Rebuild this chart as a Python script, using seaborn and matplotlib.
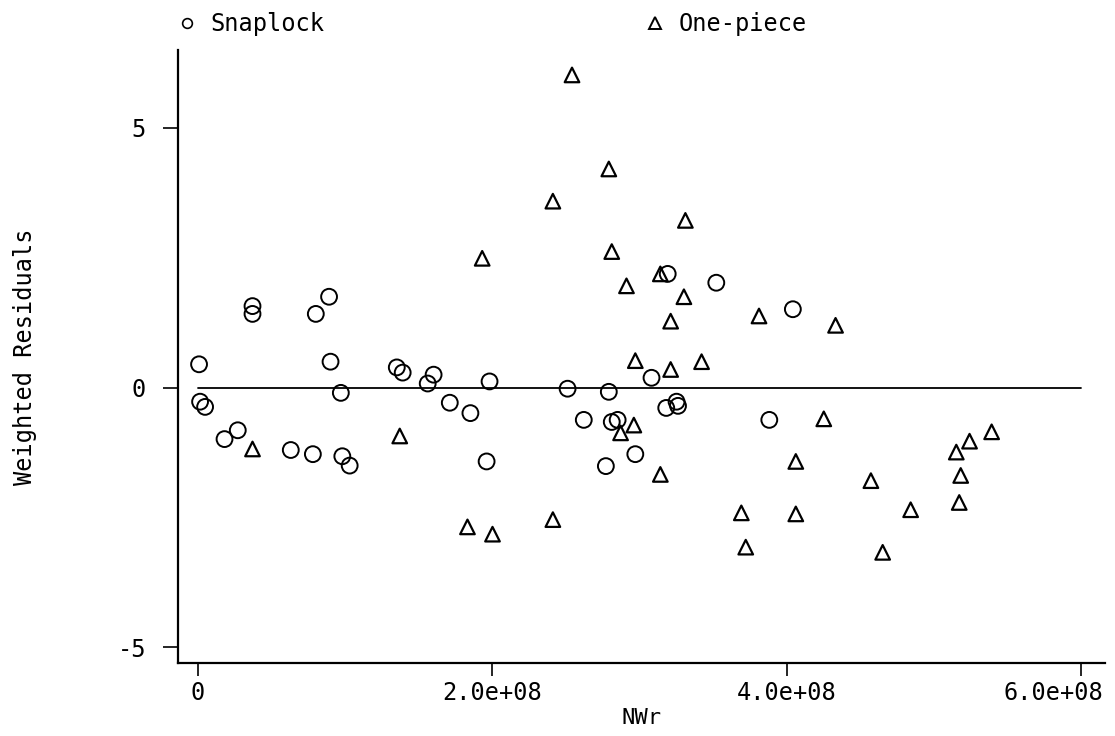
import numpy as np
import pandas as pd
import seaborn as sns
import matplotlib.pyplot as plt
from matplotlib.lines import Line2D
from matplotlib.transforms import ScaledTranslation

# Snaplock (circles): NWr in units of 1e8, weighted residuals
snap_nwr = [0.007, 0.014, 0.048, 0.18, 0.27, 0.37, 0.37, 0.63, 0.80, 0.78,
            0.89, 0.90, 0.97, 0.98, 1.03, 1.35, 1.39, 1.56, 1.60, 1.71,
            1.85, 1.96, 1.98, 2.51, 2.62, 2.77, 2.79, 2.81, 2.85, 2.97,
            3.08, 3.18, 3.19, 3.25, 3.26, 3.52, 3.88, 4.04]
snap_res = [0.45, -0.27, -0.37, -0.99, -0.82, 1.57, 1.42, -1.20, 1.42, -1.28,
            1.75, 0.50, -0.10, -1.32, -1.50, 0.39, 0.29, 0.08, 0.25, -0.29,
            -0.49, -1.42, 0.12, -0.02, -0.62, -1.51, -0.08, -0.66, -0.62, -1.28,
            0.19, -0.39, 2.19, -0.27, -0.35, 2.02, -0.62, 1.51]

# One-piece (triangles)
one_nwr = [2.54, 2.79, 2.41, 3.31, 2.81, 1.93, 3.14, 2.91, 3.30, 3.81,
           3.21, 4.33, 2.97, 3.42, 3.21, 4.25, 2.96, 2.87, 4.06, 3.14,
           0.37, 1.37, 1.83, 2.00, 2.41, 5.39, 5.24, 5.15, 5.18, 4.57,
           3.69, 4.06, 4.84, 5.17, 3.72, 4.65]
one_res = [6.02, 4.21, 3.59, 3.22, 2.62, 2.49, 2.19, 1.96, 1.75, 1.38,
           1.28, 1.20, 0.52, 0.50, 0.35, -0.60, -0.72, -0.87, -1.42, -1.67,
           -1.18, -0.93, -2.68, -2.82, -2.54, -0.85, -1.03, -1.24, -1.69, -1.79,
           -2.41, -2.43, -2.35, -2.21, -3.07, -3.17]

zero_x = [0, 6e8]
zero_y = [0, 0]

x_ticks = [0, 2e8, 4e8, 6e8]
x_labels = ["0", "2.0e+08", "4.0e+08", "6.0e+08"]
y_ticks = [-5, 0, 5]
y_labels = ["-5", "0", "5"]

snap = pd.DataFrame({"NWr": np.array(snap_nwr) * 1e8, "res": snap_res})
one = pd.DataFrame({"NWr": np.array(one_nwr) * 1e8, "res": one_res})

sns.set_style("white")
plt.rcParams["font.family"] = ["DejaVu Sans Mono", "DejaVu Sans"]
for k in ["text.color", "axes.labelcolor", "xtick.color", "ytick.color"]:
    plt.rcParams[k] = "black"

fig = plt.figure(figsize=(11.15, 7.36), dpi=100)
ax = fig.add_axes([178 / 1115, 1 - 663 / 736, (1105 - 178) / 1115, (663 - 50) / 736])

sns.scatterplot(data=snap, x="NWr", y="res", marker="o", s=130,
                facecolor="none", edgecolor="black", linewidth=1.4, ax=ax)
sns.scatterplot(data=one, x="NWr", y="res", marker="^", s=110,
                facecolor="none", edgecolor="black", linewidth=1.6, ax=ax)
sns.lineplot(x=zero_x, y=zero_y, color="black", linewidth=1.3, ax=ax)

ax.set_xlim(-1.36e7, 6.16e8)
ax.set_ylim(-5.3, 6.5)
ax.set_xticks(x_ticks)
ax.set_xticklabels(x_labels)
ax.set_yticks(y_ticks)
ax.set_yticklabels(y_labels)
ax.tick_params(axis="x", length=9, width=1.2, labelsize=17, pad=4, direction="out", bottom=True)
ax.tick_params(axis="y", length=11, width=1.2, labelsize=17, pad=12, direction="out", left=True)

# last x label sits to the left so it stays inside the page
last = ax.get_xticklabels()[-1]
last.set_ha("right")
last.set_transform(last.get_transform() + ScaledTranslation(0.22, 0, fig.dpi_scale_trans))

for side in ["top", "right"]:
    ax.spines[side].set_visible(False)
for side in ["left", "bottom"]:
    ax.spines[side].set_color("black")
    ax.spines[side].set_linewidth(1.6)

ax.set_xlabel("NWr", fontsize=16, labelpad=2)
ax.set_ylabel("Weighted Residuals", fontsize=17, labelpad=58)

handles = [
    Line2D([], [], marker="o", linestyle="none", markerfacecolor="none",
           markeredgecolor="black", markersize=7, markeredgewidth=1.2),
    Line2D([], [], marker="^", linestyle="none", markerfacecolor="none",
           markeredgecolor="black", markersize=8, markeredgewidth=1.4),
]
fig.legend(handles, ["Snaplock", "One-piece"], ncol=2, loc="upper left",
           bbox_to_anchor=(156 / 1115, 1.012), frameon=False, fontsize=17,
           handlelength=0.8, handletextpad=0.6, columnspacing=13.6)

fig.savefig("out.png", dpi=100)
